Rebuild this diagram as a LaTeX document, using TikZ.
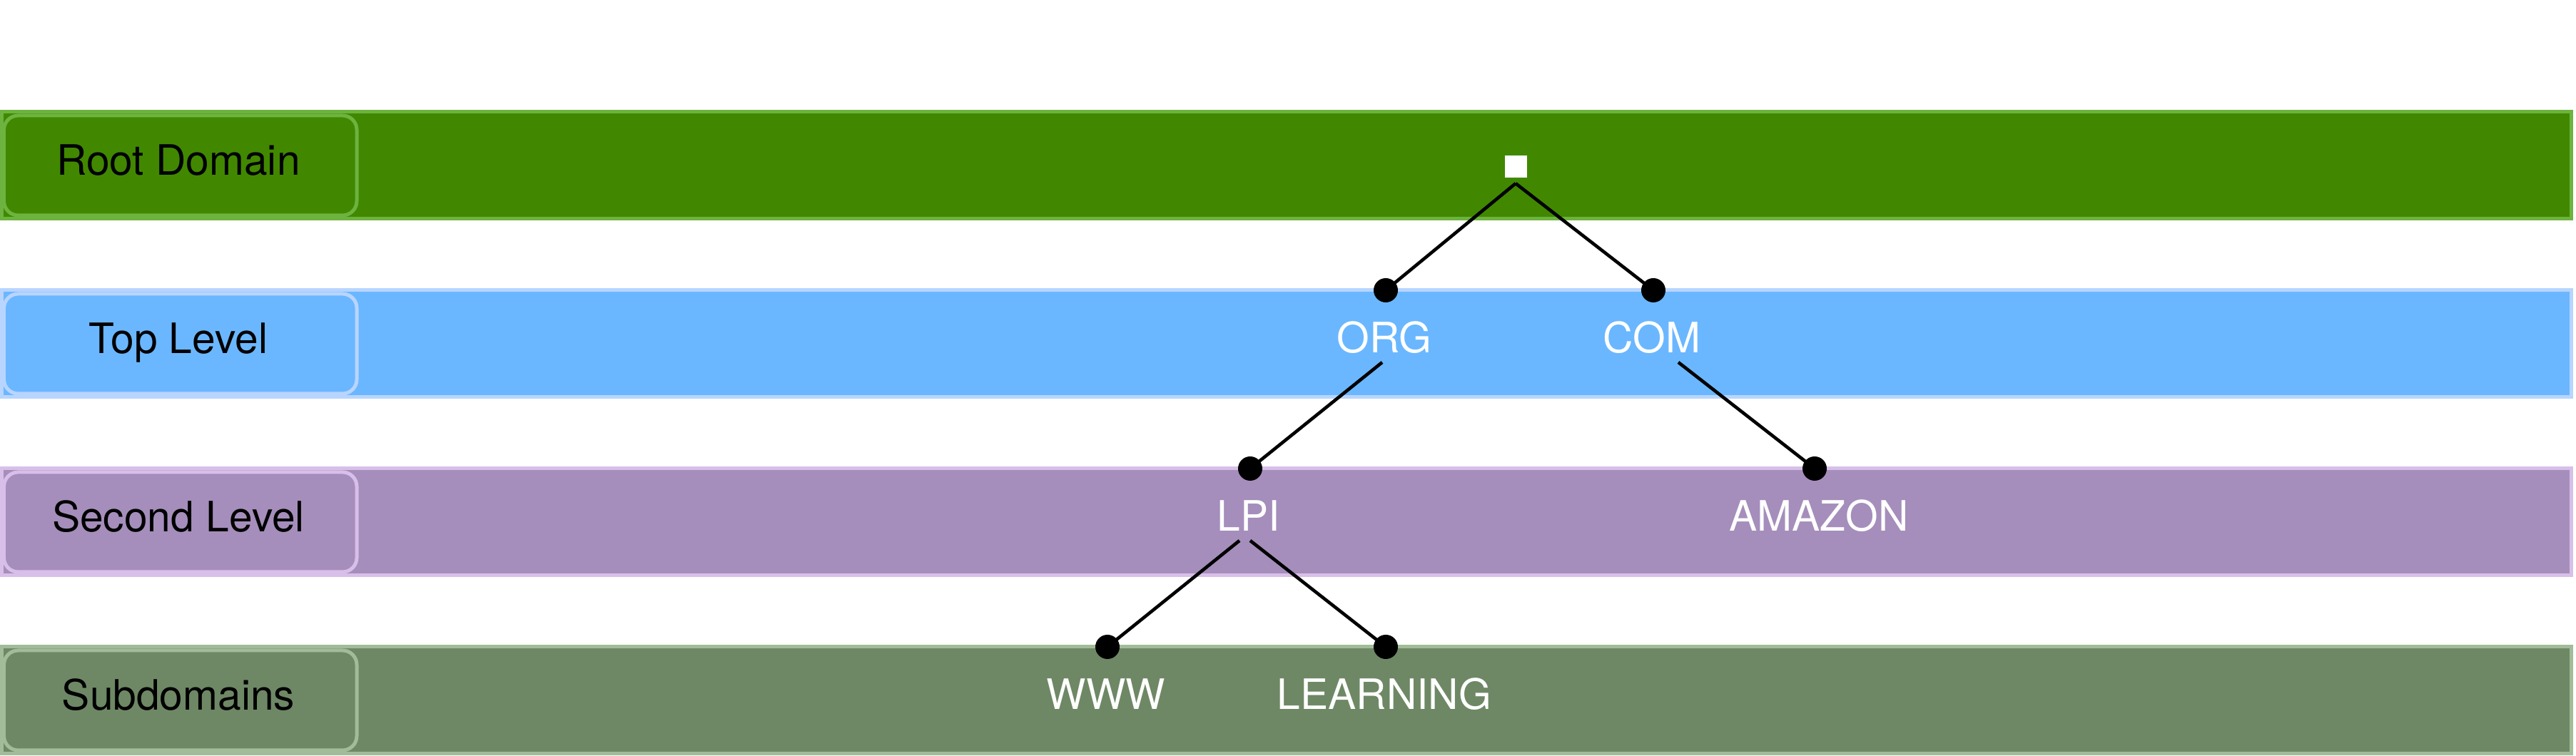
\documentclass[tikz,border=0pt]{standalone}
\usepackage{fontspec}
\setmainfont{TeX Gyre Heros}

\definecolor{rootfill}{HTML}{418800}
\definecolor{rootline}{HTML}{6DB33F}
\definecolor{topfill}{HTML}{6AB7FF}
\definecolor{topline}{HTML}{B8D5FF}
\definecolor{secfill}{HTML}{A58EBB}
\definecolor{secline}{HTML}{D8BFE9}
\definecolor{subfill}{HTML}{6E8865}
\definecolor{subline}{HTML}{A2BB99}

\begin{document}
\begin{tikzpicture}[
        band/.style={line width=0.05cm},
        lvlbox/.style={line width=0.05cm, rounded corners=0.2cm},
        knob/.style={circle, fill=black, inner sep=0pt, minimum size=0.34cm},
        lvltext/.style={anchor=base, font=\fontsize{16.7}{20}\selectfont},
        link/.style={line width=0.046cm}
    ]
        \useasboundingbox (0,0) rectangle (36.1,10.6);

        % Bands
        \foreach \i/\fc/\dc/\txt in {0/rootfill/rootline/Root Domain, 1/topfill/topline/Top Level, 2/secfill/secline/Second Level, 3/subfill/subline/Subdomains} {
            \pgfmathsetmacro{\ytop}{9.03-2.5*\i}
            \draw[band, draw=\dc, fill=\fc] (0.025,\ytop) rectangle (36.03,\ytop-1.5);
            \draw[lvlbox, draw=\dc, fill=\fc] (0.055,\ytop-0.05) rectangle (5.0,\ytop-1.45);
            \node[lvltext] (lbl\i) at (2.5,\ytop-0.89) {\txt};
        }

        % Root
        \node[fill=white, inner sep=0pt, minimum size=0.31cm] (root) at (21.24,8.26) {};

        % Nodes
        \foreach \p/\x/\y/\tx/\label in {org/19.42/6.53/19.40/ORG, com/23.17/6.53/23.15/COM, lpi/17.52/4.03/17.50/LPI, amazon/25.43/4.03/25.49/AMAZON, www/15.52/1.53/15.50/WWW, learning/19.42/1.53/19.40/LEARNING} {
            \node[knob] (\p dot) at (\x,\y) {};
            \node[lvltext, text=white] (\p) at (\tx,\y-0.88) {\label};
        }

        % Edges
        \draw[link] ([yshift=-0.07cm]root.south) -- (orgdot.center);
        \draw[link] ([yshift=-0.07cm]root.south) -- (comdot.center);
        \draw[link] ([xshift=-0.03cm,yshift=-0.13cm]org.base) -- (lpidot.center);
        \draw[link] ([xshift=0.37cm,yshift=-0.13cm]com.base) -- (amazondot.center);
        \draw[link] ([xshift=-0.13cm,yshift=-0.13cm]lpi.base) -- (wwwdot.center);
        \draw[link] ([xshift=0.02cm,yshift=-0.13cm]lpi.base) -- (learningdot.center);
    \end{tikzpicture}
\end{document}
